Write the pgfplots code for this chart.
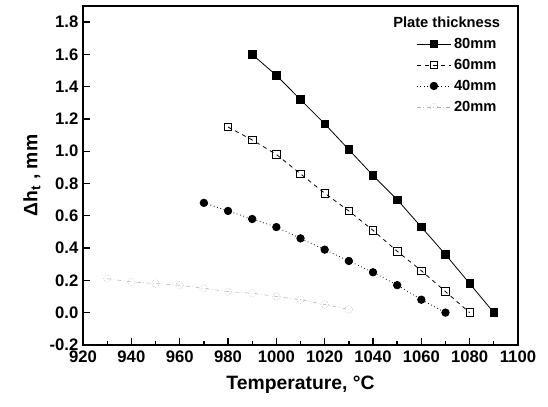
\documentclass[border=0pt]{standalone}
\usepackage{pgfplots}
\pgfplotsset{compat=1.18}
\usepackage{fontspec}
\setmainfont{Liberation Sans}
\pgfplotsset{longleg/.style={legend image code/.code={\draw[mark repeat=2,mark phase=2] plot coordinates {(0cm,0cm)(0.45cm,0cm)(0.9cm,0cm)};}}}
\begin{document}
\begin{tikzpicture}[x=1pt,y=1pt]
\begin{axis}[
  name=main,
  scale only axis,
  width=326pt, height=254pt,
  xmin=920, xmax=1100, ymin=-0.2, ymax=1.9,
  xtick={920,940,...,1100},
  ytick={-0.2,0,0.2,...,1.8},
  minor x tick num=1, minor y tick num=1,
  tick align=inside,
  xtick pos=left, ytick pos=left,
  major tick length=5pt, minor tick length=3pt,
  axis line style={line width=1.2pt},
  every tick/.style={line width=1pt,black},
  /pgf/number format/assume math mode=true,
  /pgf/number format/fixed,
  /pgf/number format/fixed zerofill,
  /pgf/number format/precision=1,
  xticklabel style={/pgf/number format/precision=0,/pgf/number format/fixed zerofill=false,/pgf/number format/1000 sep={},yshift=-1pt},
  tick label style={font=\fontsize{12.5}{14}\selectfont\bfseries},
  xlabel={Temperature, °C},
  ylabel={Δh\textsubscript{t} , mm},
  label style={font=\fontsize{14.5}{16}\selectfont\bfseries},
  xlabel style={yshift=-3pt},
  ylabel style={yshift=0pt},
  legend style={draw=none, fill=none, at={(0.975,0.985)}, anchor=north east,
    font=\fontsize{11}{13}\selectfont\bfseries, row sep=2.5pt},
  legend cell align=left,
]
\addlegendimage{empty legend}
\addlegendentry{\hspace{-1.6cm}Plate thickness}
\addplot[longleg, black, semithick, mark=square*, mark size=2.8pt] coordinates {
(990,1.60)(1000,1.47)(1010,1.32)(1020,1.17)(1030,1.01)(1040,0.85)(1050,0.70)(1060,0.53)(1070,0.36)(1080,0.18)(1090,0.00)};
\addlegendentry{80mm}
\addplot[longleg, black, semithick, dashed, mark=square, mark size=2.8pt, mark options={solid}] coordinates {
(980,1.15)(990,1.07)(1000,0.98)(1010,0.86)(1020,0.74)(1030,0.63)(1040,0.51)(1050,0.38)(1060,0.26)(1070,0.13)(1080,0.00)};
\addlegendentry{60mm}
\addplot[longleg, black, semithick, dotted, mark=*, mark size=2.8pt, mark options={solid}] coordinates {
(970,0.68)(980,0.63)(990,0.58)(1000,0.53)(1010,0.46)(1020,0.39)(1030,0.32)(1040,0.25)(1050,0.17)(1060,0.08)(1070,0.00)};
\addlegendentry{40mm}
\addplot[longleg, gray!60, dashdotted, mark=o, mark size=2.8pt, mark options={solid,densely dotted}] coordinates {
(930,0.21)(940,0.19)(950,0.18)(960,0.17)(970,0.15)(980,0.13)(990,0.12)(1000,0.10)(1010,0.08)(1020,0.05)(1030,0.02)};
\addlegendentry{20mm}
\end{axis}
\useasboundingbox (main.south west) ++(-62.25pt,-46.5pt) rectangle ([shift={(22.5pt,4.5pt)}]main.north east);
\end{tikzpicture}
\end{document}
